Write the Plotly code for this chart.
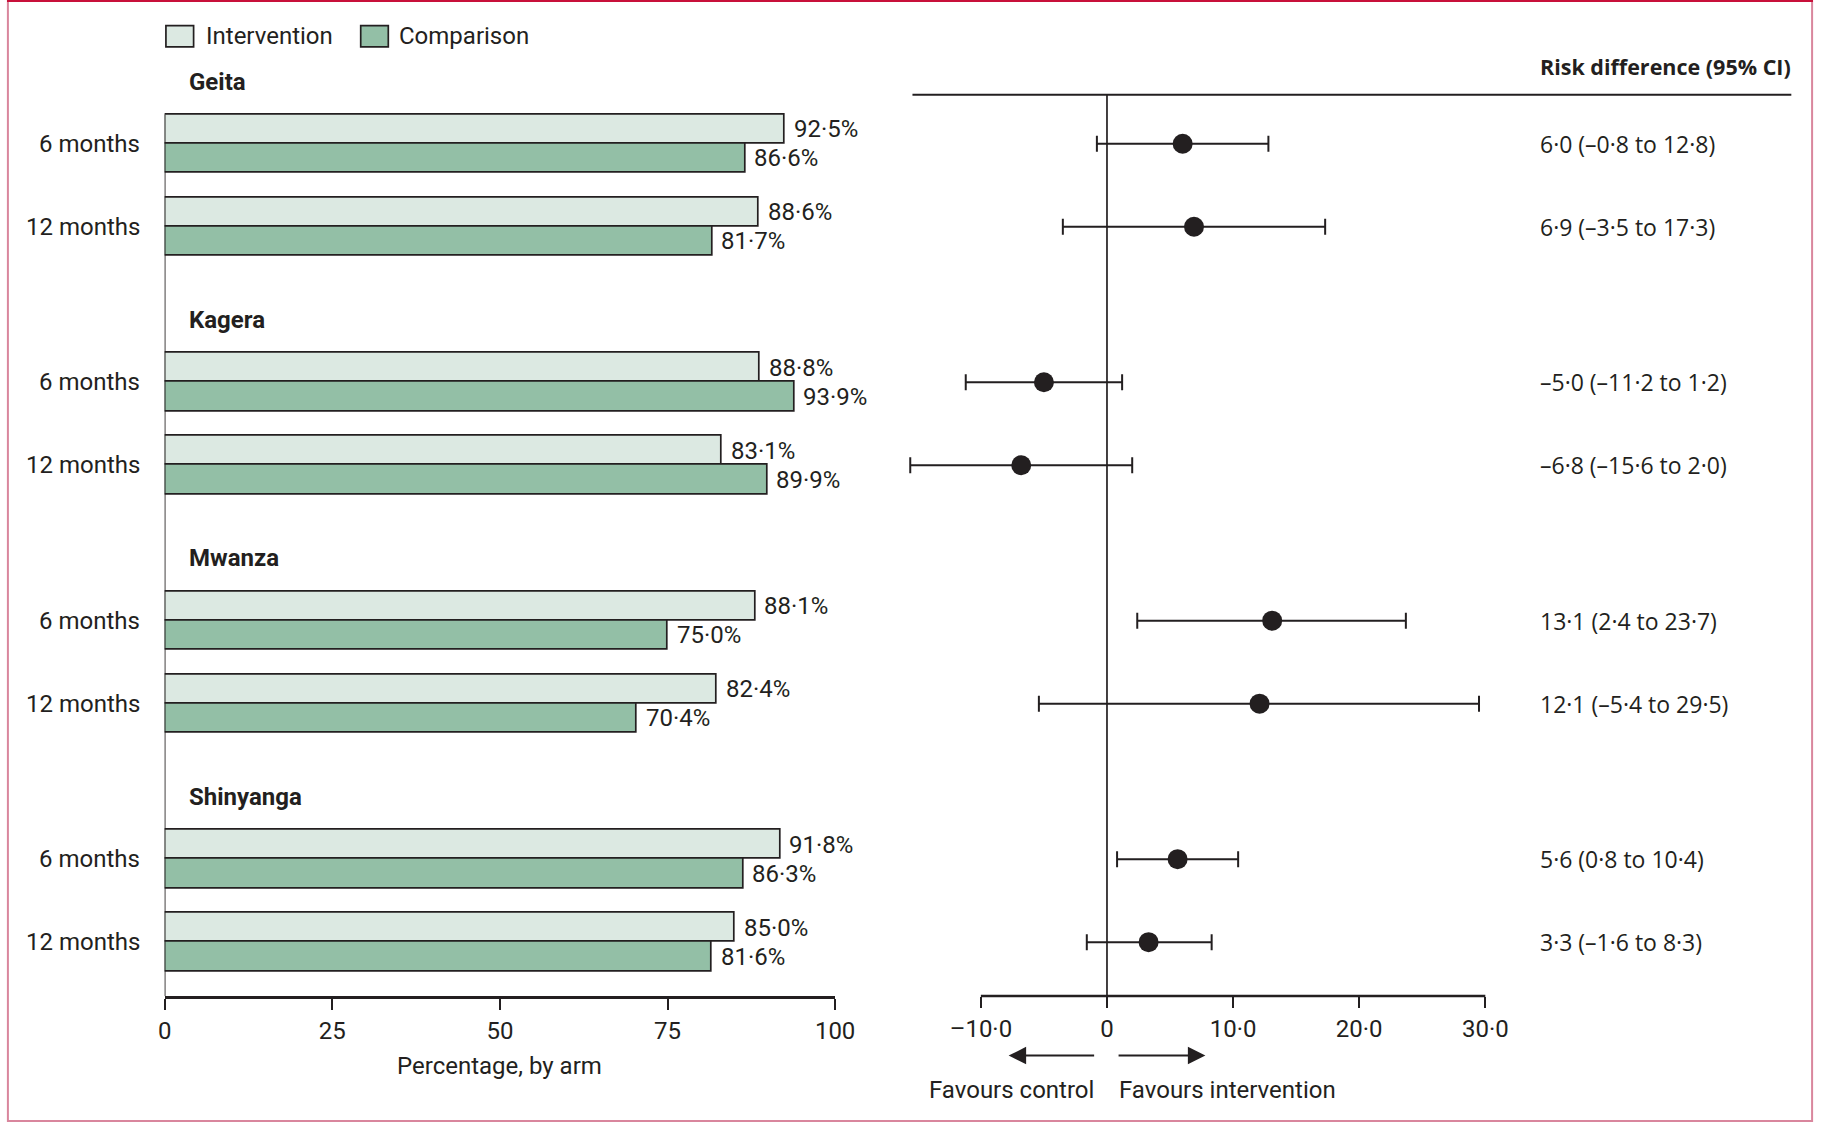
import plotly.graph_objects as go

# ---------------- data ----------------
regions = ["Geita", "Kagera", "Mwanza", "Shinyanga"]
timepoints = ["6 months", "12 months"]
intervention = [92.5, 88.6, 88.8, 83.1, 88.1, 82.4, 91.8, 85.0]
comparison = [86.6, 81.7, 93.9, 89.9, 75.0, 70.4, 86.3, 81.6]
rd = [6.0, 6.9, -5.0, -6.8, 13.1, 12.1, 5.6, 3.3]
rd_lo = [-0.8, -3.5, -11.2, -15.6, 2.4, -5.4, 0.8, -1.6]
rd_hi = [12.8, 17.3, 1.2, 2.0, 23.7, 29.5, 10.4, 8.3]
pct_ticks = [0, 25, 50, 75, 100]
rd_ticks = [-10, 0, 10, 20, 30]
legend_labels = ["Intervention", "Comparison"]

# ---------------- style / layout ----------------
W, H = 1833, 1122
INK = "#231f20"
C_INT = "#dce9e2"
C_CMP = "#93bfa6"
LFONT = "Roboto"
RFONT = "Open Sans"
GROUP_GAP = 2.873
BAR_W = 0.352
Y_RANGE = [10.268, -1.0]
Y_DOM = [1 - 996 / H, 1 - 60.8 / H]
TOP_LINE_Y = 1 - 94.7 / H
X1_DOM = [160 / W, 840.5 / W]
X2_DOM = [914.2 / W, 1807.6 / W]
X2_RANGE = [-15.8, 54]

pos = [g * GROUP_GAP + r for g in range(len(regions)) for r in range(len(timepoints))]


def fmt(v):
    if v == 0:
        return "0"
    s = f"{abs(v):.1f}".replace(".", "\u00b7")
    return ("\u2013" if v < 0 else "") + s


fig = go.Figure()

fig.add_trace(go.Bar(
    orientation="h", x=intervention, y=[p - BAR_W / 2 for p in pos], width=BAR_W,
    marker=dict(color=C_INT, line=dict(color=INK, width=1.7)),
    xaxis="x", yaxis="y", showlegend=False, hoverinfo="skip"))
fig.add_trace(go.Bar(
    orientation="h", x=comparison, y=[p + BAR_W / 2 for p in pos], width=BAR_W,
    marker=dict(color=C_CMP, line=dict(color=INK, width=1.7)),
    xaxis="x", yaxis="y", showlegend=False, hoverinfo="skip"))

fig.add_trace(go.Scatter(
    x=rd, y=pos, mode="markers",
    marker=dict(size=20, color=INK),
    error_x=dict(type="data", symmetric=False,
                 array=[h - e for h, e in zip(rd_hi, rd)],
                 arrayminus=[e - l for e, l in zip(rd, rd_lo)],
                 color=INK, thickness=2, width=8),
    xaxis="x2", yaxis="y2", cliponaxis=False, showlegend=False, hoverinfo="skip"))

ann = []
# value labels
for v, p in zip(intervention, pos):
    ann.append(dict(x=v, y=p - BAR_W / 2, xref="x", yref="y", text=fmt(v) + "%",
                    xanchor="left", yanchor="middle", xshift=7, showarrow=False,
                    font=dict(family=LFONT, size=24, color=INK)))
for v, p in zip(comparison, pos):
    ann.append(dict(x=v, y=p + BAR_W / 2, xref="x", yref="y", text=fmt(v) + "%",
                    xanchor="left", yanchor="middle", xshift=7, showarrow=False,
                    font=dict(family=LFONT, size=24, color=INK)))
# row labels
for i, p in enumerate(pos):
    ann.append(dict(x=136.8 / W, y=p, xref="paper", yref="y",
                    text=timepoints[i % len(timepoints)], xanchor="right", yanchor="middle",
                    showarrow=False, font=dict(family=LFONT, size=24, color=INK)))
# group labels
for g, name in enumerate(regions):
    ann.append(dict(x=182.4 / W, y=g * GROUP_GAP - 0.75, xref="paper", yref="y",
                    text="<b>" + name + "</b>", xanchor="left", yanchor="middle",
                    showarrow=False, font=dict(family=LFONT, size=24, color=INK)))
# risk difference texts
for e, l, h, p in zip(rd, rd_lo, rd_hi, pos):
    ann.append(dict(x=1553.6 / W, y=p, xref="paper", yref="y2",
                    text=f"{fmt(e)} ({fmt(l)} to {fmt(h)})", xanchor="left", yanchor="middle",
                    showarrow=False, font=dict(family=RFONT, size=23, color=INK)))
ann.append(dict(x=1553.6 / W, y=1 - 66.6 / H, xref="paper", yref="paper",
                text="<b>Risk difference (95% CI)</b>", xanchor="left", yanchor="middle",
                showarrow=False, font=dict(family=RFONT, size=21.5, color=INK)))
# axis title left
ann.append(dict(x=sum(X1_DOM) / 2, y=1 - 1066 / H, xref="paper", yref="paper",
                text="Percentage, by arm", xanchor="center", yanchor="middle",
                showarrow=False, font=dict(family=LFONT, size=24, color=INK)))
# favours arrows
ARROW_Y = 1 - 1055.6 / H
ann.append(dict(x=-7.8, y=ARROW_Y, ax=-0.9, ay=0, xref="x2", yref="paper",
                axref="x2", ayref="pixel", text="", showarrow=True,
                arrowhead=2, arrowsize=1.75, arrowwidth=2, arrowcolor=INK))
ann.append(dict(x=7.8, y=ARROW_Y, ax=0.8, ay=0, xref="x2", yref="paper",
                axref="x2", ayref="pixel", text="", showarrow=True,
                arrowhead=2, arrowsize=1.75, arrowwidth=2, arrowcolor=INK))
ann.append(dict(x=-0.9, y=1 - 1089.5 / H, xref="x2", yref="paper", text="Favours control",
                xanchor="right", yanchor="middle", showarrow=False,
                font=dict(family=LFONT, size=24, color=INK)))
ann.append(dict(x=0.8, y=1 - 1089.5 / H, xref="x2", yref="paper", text="Favours intervention",
                xanchor="left", yanchor="middle", showarrow=False,
                font=dict(family=LFONT, size=24, color=INK)))
# legend texts
ann.append(dict(x=200 / W, y=1 - 36.2 / H, xref="paper", yref="paper", text=legend_labels[0],
                xanchor="left", yanchor="middle", showarrow=False,
                font=dict(family=LFONT, size=24, color=INK)))
ann.append(dict(x=396 / W, y=1 - 36.2 / H, xref="paper", yref="paper", text=legend_labels[1],
                xanchor="left", yanchor="middle", showarrow=False,
                font=dict(family=LFONT, size=24, color=INK)))

shapes = [
    # legend boxes
    dict(type="rect", xref="paper", yref="paper", x0=161.3 / W, x1=189.4 / W,
         y0=1 - 46.8 / H, y1=1 - 25.7 / H, fillcolor=C_INT, line=dict(color=INK, width=1.7)),
    dict(type="rect", xref="paper", yref="paper", x0=359 / W, x1=387 / W,
         y0=1 - 46.8 / H, y1=1 - 25.7 / H, fillcolor=C_CMP, line=dict(color=INK, width=1.7)),
    # left vertical axis line
    dict(type="line", xref="x", yref="y", x0=0, x1=0, y0=pos[0] - BAR_W, y1=Y_RANGE[0],
         line=dict(color=INK, width=1.7)),
    # right panel axis line
    dict(type="line", xref="x2", yref="paper", x0=rd_ticks[0], x1=rd_ticks[-1],
         y0=Y_DOM[0], y1=Y_DOM[0], line=dict(color=INK, width=2.5)),
    # zero line
    dict(type="line", xref="x2", yref="paper", x0=0, x1=0, y0=Y_DOM[0], y1=TOP_LINE_Y,
         line=dict(color=INK, width=1.7)),
    # top header line
    dict(type="line", xref="paper", yref="paper", x0=919 / W, x1=1811 / W,
         y0=TOP_LINE_Y, y1=TOP_LINE_Y, line=dict(color=INK, width=2)),
    # frame
    dict(type="rect", xref="paper", yref="paper", x0=0.0005, x1=0.9995, y0=0.0008, y1=0.9992,
         line=dict(color="#d9869d", width=2)),
    dict(type="line", xref="paper", yref="paper", x0=0, x1=1, y0=0.9992, y1=0.9992,
         line=dict(color="#c8103a", width=2)),
]

fig.update_layout(
    width=W, height=H, margin=dict(l=0, r=0, t=0, b=0),
    paper_bgcolor="white", plot_bgcolor="white",
    barmode="overlay", bargap=0,
    annotations=ann, shapes=shapes,
    xaxis=dict(domain=X1_DOM, range=[0, 100], anchor="y", showgrid=False, zeroline=False,
               showline=True, linecolor=INK, linewidth=2.5,
               ticks="outside", ticklen=11, tickwidth=1.7, tickcolor=INK,
               tickvals=pct_ticks, ticktext=[str(t) for t in pct_ticks],
               tickfont=dict(family=LFONT, size=24, color=INK)),
    yaxis=dict(domain=Y_DOM, range=Y_RANGE, anchor="x", showgrid=False, zeroline=False,
               showline=False, showticklabels=False, ticks=""),
    xaxis2=dict(domain=X2_DOM, range=X2_RANGE, anchor="y2", showgrid=False, zeroline=False,
                showline=False, ticks="outside", ticklen=11, tickwidth=1.7, tickcolor=INK,
                tickvals=rd_ticks, ticktext=[fmt(t) for t in rd_ticks],
                tickfont=dict(family=LFONT, size=24, color=INK)),
    yaxis2=dict(domain=Y_DOM, range=Y_RANGE, anchor="x2", showgrid=False, zeroline=False,
                showline=False, showticklabels=False, ticks=""),
)

fig.write_html(
    "out.html",
    config={"displayModeBar": False},
    post_script=(
        "document.documentElement.style.margin='0';"
        "document.documentElement.style.padding='0';"
        "document.documentElement.style.overflow='hidden';"
        "document.body.style.margin='0';"
        "document.body.style.padding='0';"
        "document.body.style.overflow='hidden';"
        "var gd=document.getElementById('{plot_id}');"
        "gd.style.position='absolute';gd.style.left='0px';gd.style.top='0px';"
    ),
)
